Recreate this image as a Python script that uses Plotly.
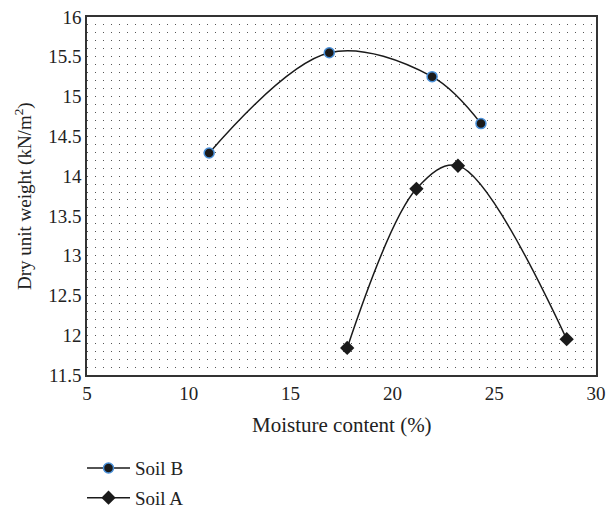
import plotly.graph_objects as go

# Data
soil_b_moisture = [11.0, 16.9, 21.95, 24.35]
soil_b_weight = [14.29, 15.55, 15.25, 14.66]
soil_a_moisture = [17.78, 21.18, 23.22, 28.56]
soil_a_weight = [11.84, 13.84, 14.13, 11.95]

x_ticks = [5, 10, 15, 20, 25, 30]
y_ticks = [11.5, 12, 12.5, 13, 13.5, 14, 14.5, 15, 15.5, 16]
y_tick_labels = ["11.5", "12", "12.5", "13", "13.5", "14", "14.5", "15", "15.5", "16"]

x_title = "Moisture content (%)"
y_title = "Dry unit weight (kN/m<sup>2</sup>)"

FONT = "Liberation Serif, Times New Roman, serif"
TXT = "#222"

fig = go.Figure()
fig.add_trace(go.Scatter(
    x=soil_b_moisture, y=soil_b_weight, name="Soil B", mode="lines+markers",
    line=dict(color="#1a1a1a", width=1.5, shape="spline", smoothing=1.0),
    marker=dict(symbol="circle", size=10, color="#1a1a1a",
                line=dict(color="#4a90d9", width=1.5)),
    legendgroup="b",
))
fig.add_trace(go.Scatter(
    x=soil_a_moisture, y=soil_a_weight, name="Soil A", mode="lines+markers",
    line=dict(color="#1a1a1a", width=1.5, shape="spline", smoothing=1.0),
    marker=dict(symbol="diamond", size=11, color="#1a1a1a",
                line=dict(color="#1a1a1a", width=0)),
    legendgroup="a",
))

fig.update_layout(
    width=608, height=508,
    margin=dict(l=87, r=12, t=17, b=133, autoexpand=False),
    paper_bgcolor="white", plot_bgcolor="white",
    font=dict(family=FONT, size=19, color=TXT),
    showlegend=True,
    legend=dict(
        x=-0.0098, y=-0.207, xanchor="left", yanchor="top",
        font=dict(family=FONT, size=19, color=TXT),
        traceorder="grouped", tracegroupgap=2, itemwidth=43,
        bgcolor="rgba(0,0,0,0)",
    ),
    xaxis=dict(
        range=[5, 30], tickmode="array", tickvals=x_ticks,
        showgrid=False, zeroline=False, automargin=False,
        showline=True, linecolor="#333", linewidth=1.5, mirror=True,
        ticks="", ticklen=0,
        tickfont=dict(family=FONT, size=19, color=TXT),
    ),
    yaxis=dict(
        range=[11.5, 16], tickmode="array", tickvals=y_ticks, ticktext=y_tick_labels,
        zeroline=False, automargin=False,
        showline=True, linecolor="#333", linewidth=1.5, mirror=True,
        ticks="", ticklen=0,
        tickfont=dict(family=FONT, size=19, color=TXT),
        showgrid=True, gridcolor="#555", gridwidth=1, griddash="1px,7px",
        minor=dict(dtick=0.1, tick0=11.5, showgrid=True, gridcolor="#555", gridwidth=1,
                   griddash="1px,7px", ticks=""),
    ),
    annotations=[
        dict(text=x_title, xref="paper", yref="paper", x=0.5, y=-0.1397,
             xanchor="center", yanchor="middle", showarrow=False,
             font=dict(family=FONT, size=21, color=TXT)),
        dict(text=y_title, xref="paper", yref="paper", x=-0.1257, y=0.5,
             xanchor="center", yanchor="middle", showarrow=False, textangle=-90,
             font=dict(family=FONT, size=19, color=TXT)),
    ],
)

fig.write_html(
    "out.html",
    config={"displayModeBar": False},
    post_script="document.body.style.margin='0';document.documentElement.style.overflow='hidden';",
)
